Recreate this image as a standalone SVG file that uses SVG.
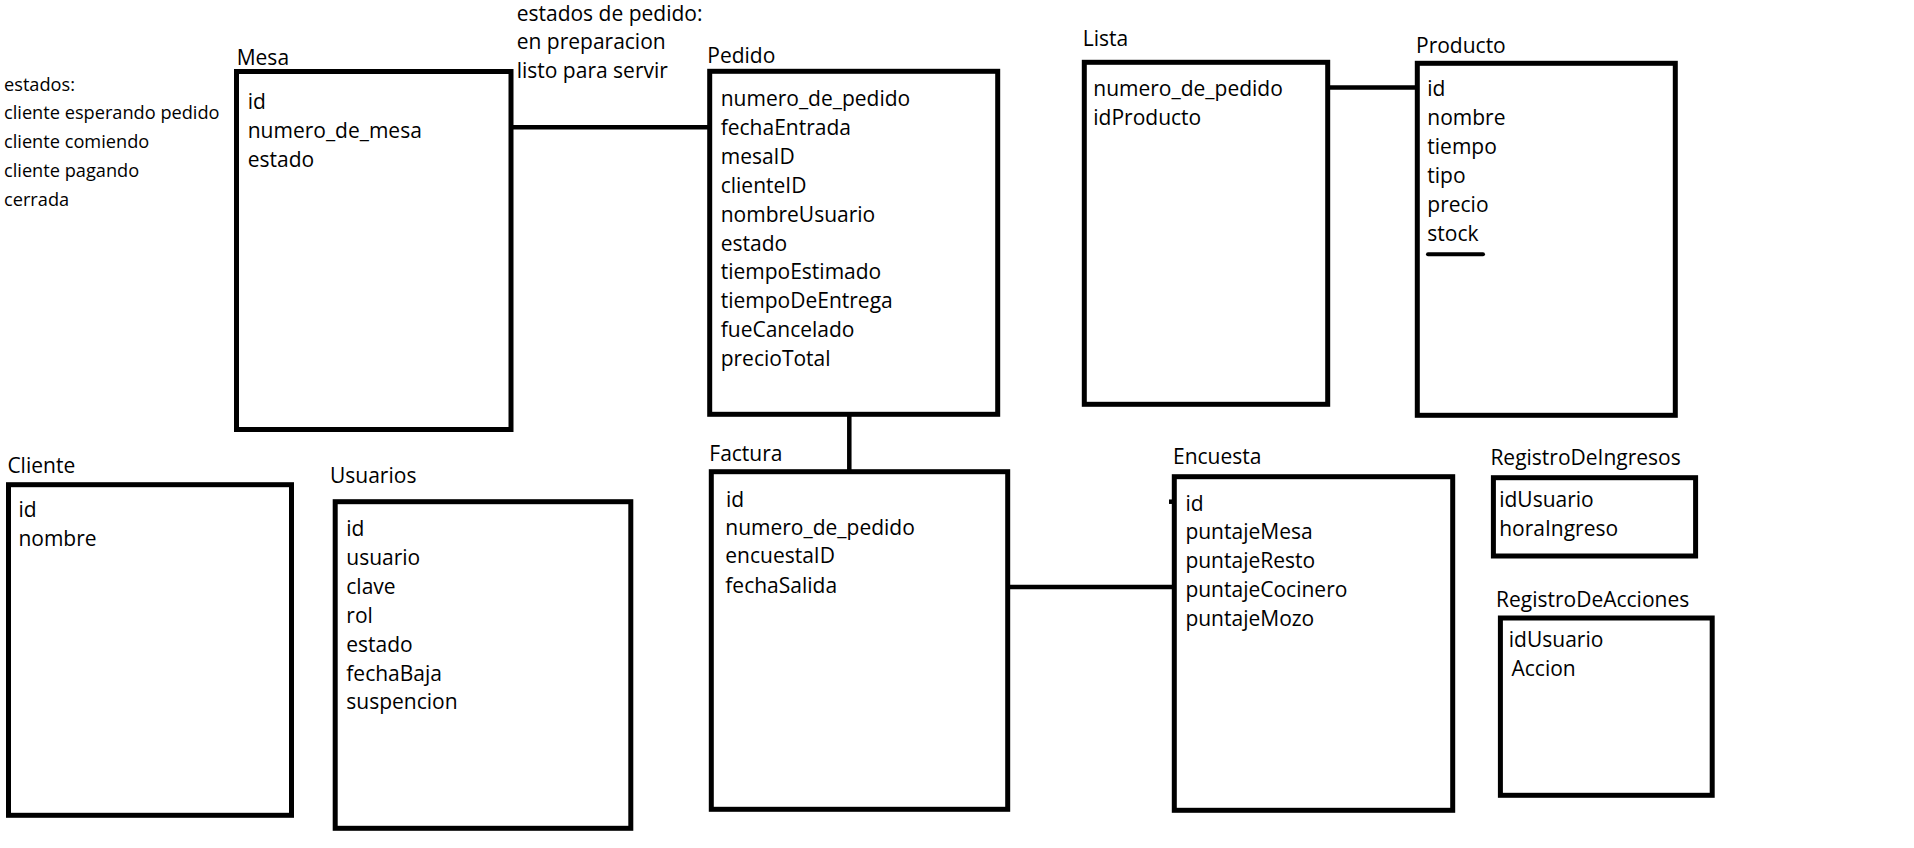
<svg xmlns="http://www.w3.org/2000/svg" width="1914" height="848" viewBox="0 0 1914 848">
<style>
.bg{fill:#fff}
.box{fill:none;stroke:#000;stroke-width:5}
.ln{fill:none;stroke:#000;stroke-width:4.5}
text{font-family:"Open Sans","Noto Sans","Liberation Sans",sans-serif;fill:#000}
.f{font-size:21px}
.n{font-size:18.2px}
</style>
<rect class="bg" x="0" y="0" width="1914" height="848"/>
<g id="notes-mesa">
<text class="n" x="4" y="90.7">estados:</text>
<text class="n" x="4" y="119.3">cliente esperando pedido</text>
<text class="n" x="4" y="148.3">cliente comiendo</text>
<text class="n" x="4" y="177">cliente pagando</text>
<text class="n" x="4" y="206">cerrada</text>
</g>
<g id="notes-pedido">
<text class="f" x="516.7" y="20.7">estados de pedido:</text>
<text class="f" x="516.7" y="49.3">en preparacion</text>
<text class="f" x="516.7" y="78.3">listo para servir</text>
</g>
<g id="connectors">
<line class="ln" x1="511" y1="127.3" x2="710" y2="127.3"/>
<line class="ln" x1="849.3" y1="414" x2="849.3" y2="472"/>
<line class="ln" x1="1327.7" y1="87.5" x2="1417.3" y2="87.5"/>
<line class="ln" x1="1007.7" y1="587" x2="1174.3" y2="587"/>
<line class="ln" x1="1169" y1="501.7" x2="1174" y2="501.7"/>
</g>
<g id="mesa">
<text class="f" x="236.7" y="65">Mesa</text>
<rect class="box" x="236.5" y="71.5" width="274.5" height="358"/>
<text class="f" x="247.7" y="108.7">id</text>
<text class="f" x="247.7" y="137.7">numero_de_mesa</text>
<text class="f" x="247.7" y="166.7">estado</text>
</g>
<g id="pedido">
<text class="f" x="707.3" y="62.7">Pedido</text>
<rect class="box" x="709.7" y="71.3" width="288" height="343"/>
<text class="f" x="720.7" y="106">numero_de_pedido</text>
<text class="f" x="720.7" y="135">fechaEntrada</text>
<text class="f" x="720.7" y="164">mesaID</text>
<text class="f" x="720.7" y="192.7">clienteID</text>
<text class="f" x="720.7" y="221.7">nombreUsuario</text>
<text class="f" x="720.7" y="250.7">estado</text>
<text class="f" x="720.7" y="279.3">tiempoEstimado</text>
<text class="f" x="720.7" y="308.3">tiempoDeEntrega</text>
<text class="f" x="720.7" y="337.3">fueCancelado</text>
<text class="f" x="720.7" y="366">precioTotal</text>
</g>
<g id="lista">
<text class="f" x="1082.7" y="46">Lista</text>
<rect class="box" x="1084.3" y="62.3" width="243.4" height="342"/>
<text class="f" x="1093.3" y="96">numero_de_pedido</text>
<text class="f" x="1093.3" y="124.7">idProducto</text>
</g>
<g id="producto">
<text class="f" x="1416" y="52.7">Producto</text>
<rect class="box" x="1417.3" y="63.3" width="258" height="352"/>
<text class="f" x="1427.3" y="96">id</text>
<text class="f" x="1427.3" y="125">nombre</text>
<text class="f" x="1427.3" y="154">tiempo</text>
<text class="f" x="1427.3" y="182.7">tipo</text>
<text class="f" x="1427.3" y="211.7">precio</text>
<text class="f" x="1427.3" y="240.7">stock</text>
<line x1="1428" y1="254.3" x2="1483" y2="254.3" stroke="#000" stroke-width="4" stroke-linecap="round"/>
</g>
<g id="cliente">
<text class="f" x="7.4" y="473.3">Cliente</text>
<rect class="box" x="8.5" y="484.7" width="283" height="330.6"/>
<text class="f" x="18.4" y="516.7">id</text>
<text class="f" x="18.4" y="546">nombre</text>
</g>
<g id="usuarios">
<text class="f" x="330" y="482.7">Usuarios</text>
<rect class="box" x="335.2" y="501.7" width="295.6" height="326.6"/>
<text class="f" x="346.3" y="536">id</text>
<text class="f" x="346.3" y="565">usuario</text>
<text class="f" x="346.3" y="594">clave</text>
<text class="f" x="346.3" y="622.7">rol</text>
<text class="f" x="346.3" y="651.7">estado</text>
<text class="f" x="346.3" y="680.7">fechaBaja</text>
<text class="f" x="346.3" y="709.3">suspencion</text>
</g>
<g id="factura">
<text class="f" x="709.3" y="460.7">Factura</text>
<rect class="box" x="711.3" y="471.7" width="296.4" height="337.6"/>
<text class="f" x="726" y="507.3">id</text>
<text class="f" x="725.3" y="535">numero_de_pedido</text>
<text class="f" x="725.3" y="563.3">encuestaID</text>
<text class="f" x="725.3" y="592.7">fechaSalida</text>
</g>
<g id="encuesta">
<text class="f" x="1173" y="464">Encuesta</text>
<rect class="box" x="1174.3" y="476.7" width="278.4" height="333.6"/>
<text class="f" x="1185.4" y="510.7">id</text>
<text class="f" x="1185.4" y="539.3">puntajeMesa</text>
<text class="f" x="1185.4" y="568.3">puntajeResto</text>
<text class="f" x="1185.4" y="597.3">puntajeCocinero</text>
<text class="f" x="1185.4" y="626">puntajeMozo</text>
</g>
<g id="registro-ingresos">
<text class="f" x="1490.4" y="465">RegistroDeIngresos</text>
<rect class="box" x="1493.4" y="477.7" width="202.2" height="78.3"/>
<text class="f" x="1499.2" y="506.7">idUsuario</text>
<text class="f" x="1499.2" y="536">horaIngreso</text>
</g>
<g id="registro-acciones">
<text class="f" x="1496" y="606.7">RegistroDeAcciones</text>
<rect class="box" x="1500.4" y="618" width="211.8" height="177.3"/>
<text class="f" x="1508.8" y="647.3">idUsuario</text>
<text class="f" x="1511.5" y="676">Accion</text>
</g>
</svg>
